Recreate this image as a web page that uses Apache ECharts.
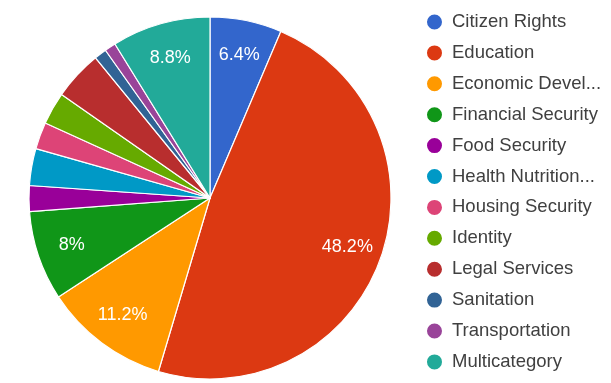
<!DOCTYPE html>
<html>
<head>
<meta charset="utf-8">
<script src="https://cdn.jsdelivr.net/npm/echarts@6/dist/echarts.min.js"></script>
<style>
  html, body { margin: 0; padding: 0; background: #fff; }
  #chart { width: 611px; height: 383px; }
</style>
</head>
<body>
<div id="chart"></div>
<script>
// Share of projects per category (percent of total)
const categories = [
  'Citizen Rights', 'Education', 'Economic Devel...', 'Financial Security',
  'Food Security', 'Health Nutrition...', 'Housing Security', 'Identity',
  'Legal Services', 'Sanitation', 'Transportation', 'Multicategory'
];
const shares = [6.4, 48.2, 11.2, 8, 2.3, 3.3, 2.4, 2.9, 4.4, 1.1, 1.0, 8.8];
const palette = [
  '#3366cc', '#dc3912', '#ff9900', '#109618', '#990099', '#0099c6',
  '#dd4477', '#66aa00', '#b82e2e', '#316395', '#994499', '#22aa99'
];
// Slices smaller than this carry no percentage text
const labelThreshold = 5;

const pieData = categories.map((name, i) => ({ name, value: shares[i] }));
const center = [210, 198];
const outer = 181;

const chart = echarts.init(document.getElementById('chart'), null, { renderer: 'canvas' });
chart.setOption({
  animation: false,
  color: palette,
  legend: {
    orient: 'vertical',
    left: 420,
    top: 7.5,
    icon: 'circle',
    itemWidth: 17,
    itemHeight: 17,
    itemGap: 11.9,
    data: categories,
    selectedMode: false,
    textStyle: {
      fontFamily: 'Liberation Sans, Arial, sans-serif',
      fontSize: 18.5,
      lineHeight: 19,
      color: '#404040',
      padding: [0, 0, 0, 4]
    }
  },
  series: [
    {
      type: 'pie',
      center: center,
      radius: [0, outer],
      startAngle: 90,
      clockwise: true,
      data: pieData,
      label: { show: false },
      labelLine: { show: false },
      itemStyle: { borderColor: '#ffffff', borderWidth: 1.2 },
      emphasis: { disabled: true }
    },
    {
      // Ring that only carries the percentage text, centred at ~0.79 of the radius
      type: 'pie',
      center: center,
      radius: [105, outer],
      startAngle: 90,
      clockwise: true,
      silent: true,
      legendHoverLink: false,
      data: pieData,
      itemStyle: { color: 'rgba(0,0,0,0)', borderWidth: 0 },
      labelLine: { show: false },
      emphasis: { disabled: true },
      label: {
        show: true,
        position: 'inside',
        color: '#ffffff',
        fontFamily: 'Liberation Sans, Arial, sans-serif',
        fontSize: 18,
        formatter: p => (p.value >= labelThreshold ? p.value + '%' : '')
      }
    }
  ]
});
</script>
</body>
</html>
